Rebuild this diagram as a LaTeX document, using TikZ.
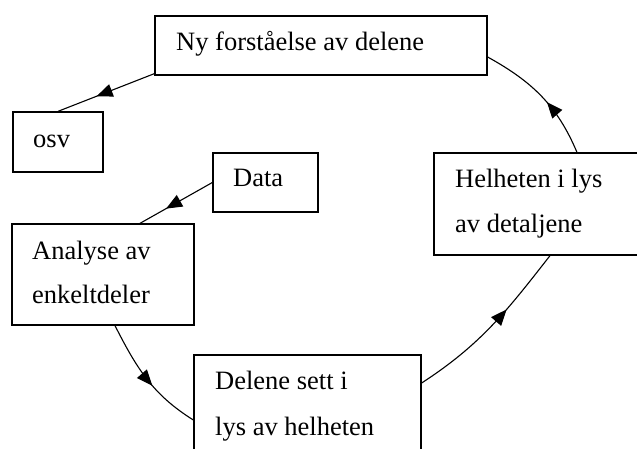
\documentclass[tikz,border=0pt]{standalone}
\usepackage{fontspec}
\setmainfont{Liberation Serif}
\usetikzlibrary{arrows.meta,decorations.markings}
\begin{document}
\begin{tikzpicture}[x=1pt,y=1pt,
  box/.style={draw,line width=1.3pt,inner sep=0pt,rectangle},
  lbl/.style={anchor=base west,inner sep=0pt,font=\fontsize{26.5}{44}\selectfont},
  conn/.style={line width=1.1pt,postaction={decorate},
    decoration={markings,mark=at position #1 with {\arrow{Triangle[length=16pt,width=13pt]}}}},
  conn/.default=0.55]
\clip (0,0) rectangle (637,449);
% boxes
\node[box,minimum width=332pt,minimum height=59pt] (ny) at (321,403.5) {};
\node[box,minimum width=90pt,minimum height=60pt] (osv) at (58,307) {};
\node[box,minimum width=105pt,minimum height=59pt] (data) at (265.5,266.5) {};
\node[box,minimum width=182pt,minimum height=101pt] (ana) at (103,174.5) {};
\node[box,minimum width=227pt,minimum height=101pt] (del) at (307.5,43.5) {};
\node[box,minimum width=216pt,minimum height=102pt] (hel) at (542,245) {};
% texts
\node[lbl] (tny) at (176,398) {Ny forståelse av delene};
\node[lbl] (tosv) at (33,301) {osv};
\node[lbl] (tdata) at (233,262) {Data};
\node[lbl] (tana1) at (32,189) {Analyse av};
\node[lbl] (tana2) at (32,145) {enkeltdeler};
\node[lbl] (tdel1) at (215,59) {Delene sett i};
\node[lbl] (tdel2) at (215,13) {lys av helheten};
\node[lbl] (thel1) at (455,261) {Helheten i lys};
\node[lbl] (thel2) at (455,216) {av detaljene};
% connectors
\draw[conn=0.6] ([yshift=2pt]ny.south west) -- (osv.north);
\draw[conn=0.64] (data.west) -- ([xshift=37pt]ana.north);
\draw[conn=0.57] ([xshift=12pt]ana.south) to[out=-63,in=148] ([yshift=-14.5pt]del.west);
\draw[conn=0.62] ([yshift=22.5pt]del.east) to[out=33,in=232] ([xshift=8pt]hel.south);
\draw[conn=0.44] ([xshift=35pt]hel.north) to[out=113,in=-29] ([yshift=-11.5pt]ny.east);
\end{tikzpicture}
\end{document}
